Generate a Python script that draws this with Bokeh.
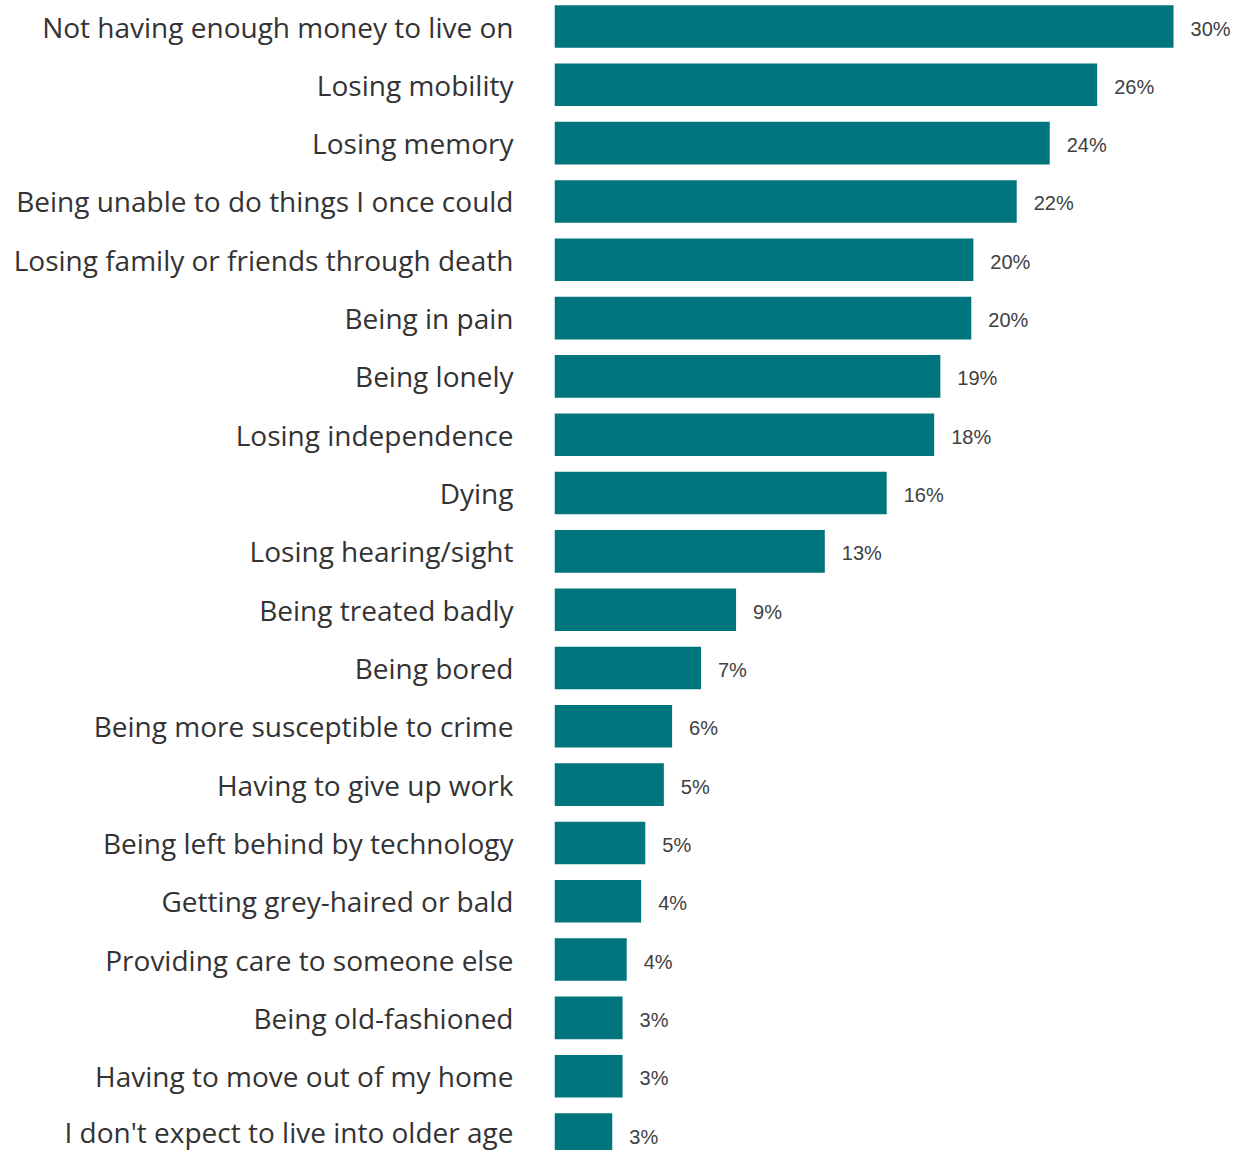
from bokeh.plotting import figure
from bokeh.models import Range1d, FixedTicker, ColumnDataSource, LabelSet
from bokeh.core.properties import value
from bokeh.embed import file_html
from bokeh.resources import INLINE

categories = [
    "Not having enough money to live on",
    "Losing mobility",
    "Losing memory",
    "Being unable to do things I once could",
    "Losing family or friends through death",
    "Being in pain",
    "Being lonely",
    "Losing independence",
    "Dying",
    "Losing hearing/sight",
    "Being treated badly",
    "Being bored",
    "Being more susceptible to crime",
    "Having to give up work",
    "Being left behind by technology",
    "Getting grey-haired or bald",
    "Providing care to someone else",
    "Being old-fashioned",
    "Having to move out of my home",
    "I don't expect to live into older age",
]
values = [30.0, 26.3, 24.0, 22.4, 20.3, 20.2, 18.7, 18.4, 16.1, 13.1,
          8.8, 7.1, 5.7, 5.3, 4.4, 4.2, 3.5, 3.3, 3.3, 2.8]
value_labels = ["30%", "26%", "24%", "22%", "20%", "20%", "19%", "18%", "16%", "13%",
                "9%", "7%", "6%", "5%", "5%", "4%", "4%", "3%", "3%", "3%"]

idx = list(range(len(categories)))
src = ColumnDataSource(dict(y=idx, v=values, lab=value_labels))

p = figure(width=1231, height=1150, output_backend="svg", toolbar_location=None,
           x_range=Range1d(0, 32.81), y_range=Range1d(19.274, -0.446),
           min_border_left=554, min_border_right=0, min_border_top=0, min_border_bottom=0)

p.hbar(y="y", left=0, right="v", height=0.73, source=src,
       fill_color="#00757D", line_color=None)

labels = LabelSet(x="v", y="y", text="lab", source=src, x_offset=17, y_offset=-2,
                  text_baseline="middle", text_align="left",
                  text_font=value("Liberation Sans"), text_font_size="20px",
                  text_color="#404040")
p.add_layout(labels)

p.xaxis.visible = False
p.xgrid.visible = False
p.ygrid.visible = False
p.outline_line_color = None

ya = p.yaxis[0]
ya.ticker = FixedTicker(ticks=idx)
ya.major_label_overrides = {i: c for i, c in zip(idx, categories)}
ya.axis_line_color = None
ya.major_tick_line_color = None
ya.minor_tick_line_color = None
ya.major_tick_out = 0
ya.major_tick_in = 0
ya.major_label_standoff = 41
ya.major_label_text_font = "Open Sans"
ya.major_label_text_font_size = "28px"
ya.major_label_text_color = "#333333"

open("out.html", "w").write(file_html(p, INLINE))
